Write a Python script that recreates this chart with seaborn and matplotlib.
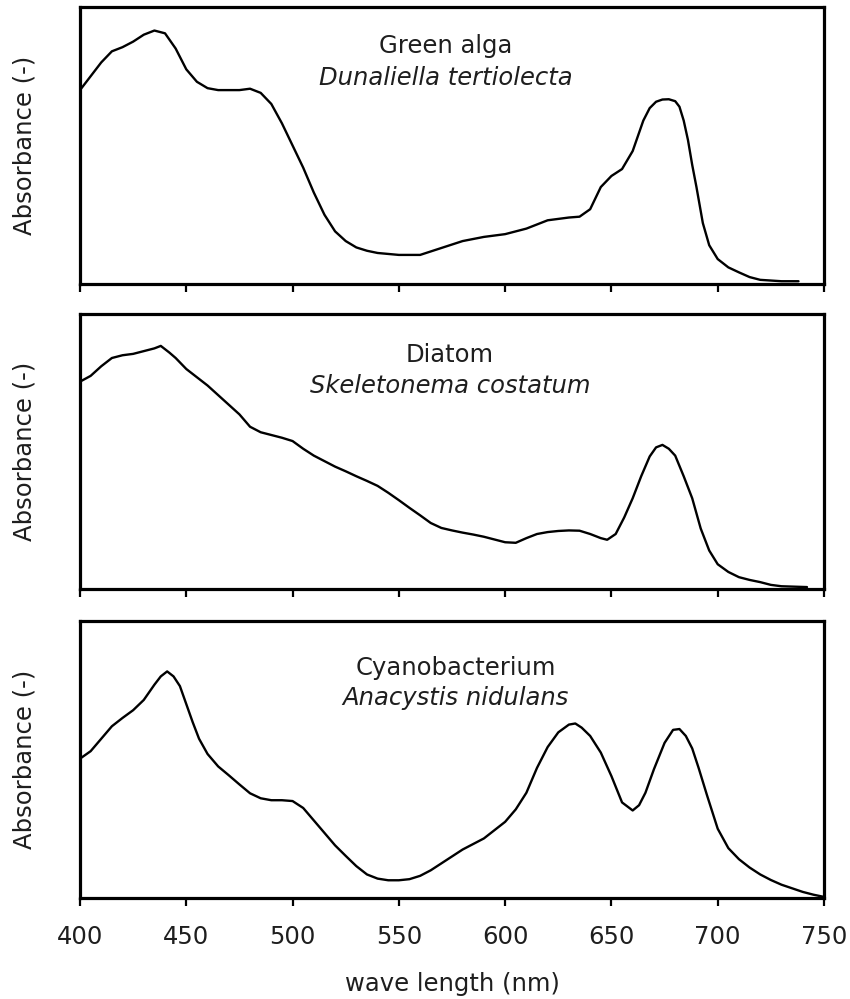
import matplotlib
matplotlib.use("Agg")
import matplotlib.pyplot as plt
import seaborn as sns
import pandas as pd

# ---- data (normalized absorbance) ----
wl_green = [400, 405, 410, 415, 420, 425, 430, 435, 440, 445, 450, 455, 460, 465, 470, 475,
            480, 485, 490, 495, 500, 505, 510, 515, 520, 525, 530, 535, 540, 550, 560, 570, 580,
            590, 600, 610, 620, 630, 635, 640, 645, 650, 655, 660, 665, 668, 671, 674, 677,
            680, 682, 684, 686, 688, 690, 693, 696, 700, 705, 710, 715, 720, 730, 738]
abs_green = [0.70, 0.75, 0.80, 0.84, 0.855, 0.875, 0.90, 0.915, 0.905, 0.85, 0.775, 0.73,
             0.707, 0.70, 0.70, 0.70, 0.705, 0.69, 0.65, 0.58, 0.50, 0.42, 0.33, 0.25, 0.19,
             0.155, 0.132, 0.12, 0.112, 0.105, 0.105, 0.13, 0.155, 0.17, 0.18, 0.20, 0.23,
             0.24, 0.243, 0.27, 0.35, 0.39, 0.415, 0.48, 0.59, 0.635, 0.658, 0.666, 0.667,
             0.66, 0.64, 0.59, 0.52, 0.43, 0.35, 0.22, 0.14, 0.09, 0.06, 0.042, 0.025, 0.015,
             0.01, 0.01]

wl_diatom = [400, 405, 410, 415, 420, 425, 430, 435, 438, 442, 445, 450, 455, 460, 465, 470,
             475, 480, 485, 490, 495, 500, 505, 510, 515, 520, 525, 530, 535, 540, 545, 550,
             555, 560, 565, 570, 575, 580, 585, 590, 595, 600, 605, 610, 615, 620, 625, 630,
             635, 640, 645, 648, 652, 656, 660, 664, 668, 671, 674, 677, 680, 684, 688, 692,
             696, 700, 705, 710, 715, 720, 725, 730, 742]
abs_diatom = [0.754, 0.775, 0.81, 0.84, 0.85, 0.855, 0.865, 0.875, 0.884, 0.86, 0.84, 0.80,
              0.77, 0.74, 0.705, 0.67, 0.635, 0.59, 0.57, 0.56, 0.55, 0.538, 0.51, 0.485,
              0.465, 0.445, 0.428, 0.41, 0.393, 0.375, 0.35, 0.323, 0.295, 0.268, 0.24, 0.222,
              0.213, 0.205, 0.198, 0.19, 0.18, 0.17, 0.168, 0.185, 0.20, 0.207, 0.211, 0.213,
              0.212, 0.20, 0.185, 0.179, 0.20, 0.26, 0.33, 0.41, 0.482, 0.515, 0.524, 0.51,
              0.485, 0.41, 0.33, 0.22, 0.14, 0.09, 0.062, 0.043, 0.033, 0.025, 0.015, 0.01,
              0.007]

wl_cyano = [400, 405, 410, 415, 420, 425, 430, 435, 438, 441, 444, 447, 450, 453, 456, 460,
            465, 470, 475, 480, 485, 490, 495, 500, 505, 510, 515, 520, 525, 530, 535, 540,
            545, 550, 555, 560, 565, 570, 575, 580, 585, 590, 595, 600, 605, 610, 615, 620,
            625, 630, 633, 636, 640, 645, 650, 655, 660, 663, 666, 670, 675, 679, 682, 685,
            688, 691, 695, 700, 705, 710, 715, 720, 725, 730, 735, 740, 745, 750]
abs_cyano = [0.503, 0.53, 0.575, 0.62, 0.65, 0.678, 0.715, 0.77, 0.80, 0.818, 0.80, 0.765,
             0.70, 0.635, 0.575, 0.52, 0.475, 0.443, 0.41, 0.378, 0.36, 0.353, 0.353, 0.35,
             0.325, 0.28, 0.235, 0.19, 0.152, 0.115, 0.085, 0.07, 0.064, 0.064, 0.068, 0.08,
             0.10, 0.125, 0.15, 0.175, 0.195, 0.215, 0.245, 0.275, 0.32, 0.38, 0.47, 0.545,
             0.598, 0.626, 0.63, 0.615, 0.585, 0.525, 0.44, 0.345, 0.316, 0.335, 0.38, 0.465,
             0.56, 0.607, 0.61, 0.585, 0.54, 0.47, 0.37, 0.25, 0.18, 0.14, 0.11, 0.085, 0.065,
             0.048, 0.035, 0.022, 0.012, 0.004]

titles = [("Green alga", "Dunaliella tertiolecta"),
          ("Diatom", "Skeletonema costatum"),
          ("Cyanobacterium", "Anacystis nidulans")]
x_ticks = [400, 450, 500, 550, 600, 650, 700, 750]
y_label = "Absorbance (-)"
x_label = "wave length (nm)"

# ---- style ----
sns.set_style("white")
plt.rcParams["font.family"] = ["DejaVu Sans"]
TXT = "#1e1e1e"
FS = 17.5

fig = plt.figure(figsize=(8.5, 9.99), dpi=100)
W, H = 850.0, 999.0
left, width = 80 / W, 744 / W
panels = [(7, 284), (314, 589), (621, 898)]
title_pos = [((0.492, 0.859), (0.492, 0.744)),
             ((0.497, 0.851), (0.497, 0.738)),
             ((0.505, 0.830), (0.505, 0.722))]
series = [(wl_green, abs_green), (wl_diatom, abs_diatom), (wl_cyano, abs_cyano)]

axes = []
for i, ((top, bot), (wl, ab)) in enumerate(zip(panels, series)):
    ax = fig.add_axes([left, 1 - bot / H, width, (bot - top) / H])
    df = pd.DataFrame({"wl": wl, "abs": ab})
    sns.lineplot(data=df, x="wl", y="abs", ax=ax, color="black", linewidth=1.7,
                 estimator=None, sort=False)
    ax.set_xlim(400, 750)
    ax.set_ylim(0, 1)
    ax.set_yticks([])
    ax.set_xticks(x_ticks)
    for s in ax.spines.values():
        s.set_linewidth(2.3)
        s.set_color("black")
        s.set_visible(True)
    ax.tick_params(axis="x", direction="out", length=5.5, width=1.6, color="black",
                   bottom=True, labelsize=FS, labelcolor=TXT, pad=14)
    if i < 2:
        ax.tick_params(axis="x", labelbottom=False)
        ax.set_xlabel("")
    else:
        ax.set_xticklabels([str(t) for t in x_ticks])
        ax.set_xlabel(x_label, fontsize=FS, color=TXT)
        ax.xaxis.set_label_coords(0.5, -0.31)
        ax.xaxis.label.set_verticalalignment("center")
    ax.set_ylabel(y_label, fontsize=FS, color=TXT)
    ax.yaxis.set_label_coords(-0.074, 0.5)
    ax.yaxis.label.set_verticalalignment("center")
    (p1, p2) = title_pos[i]
    ax.text(p1[0], p1[1], titles[i][0], transform=ax.transAxes, ha="center", va="center",
            fontsize=FS, color=TXT)
    ax.text(p2[0], p2[1], titles[i][1], transform=ax.transAxes, ha="center", va="center",
            fontsize=FS, color=TXT, style="italic")
    axes.append(ax)

fig.savefig("out.png", dpi=100)
